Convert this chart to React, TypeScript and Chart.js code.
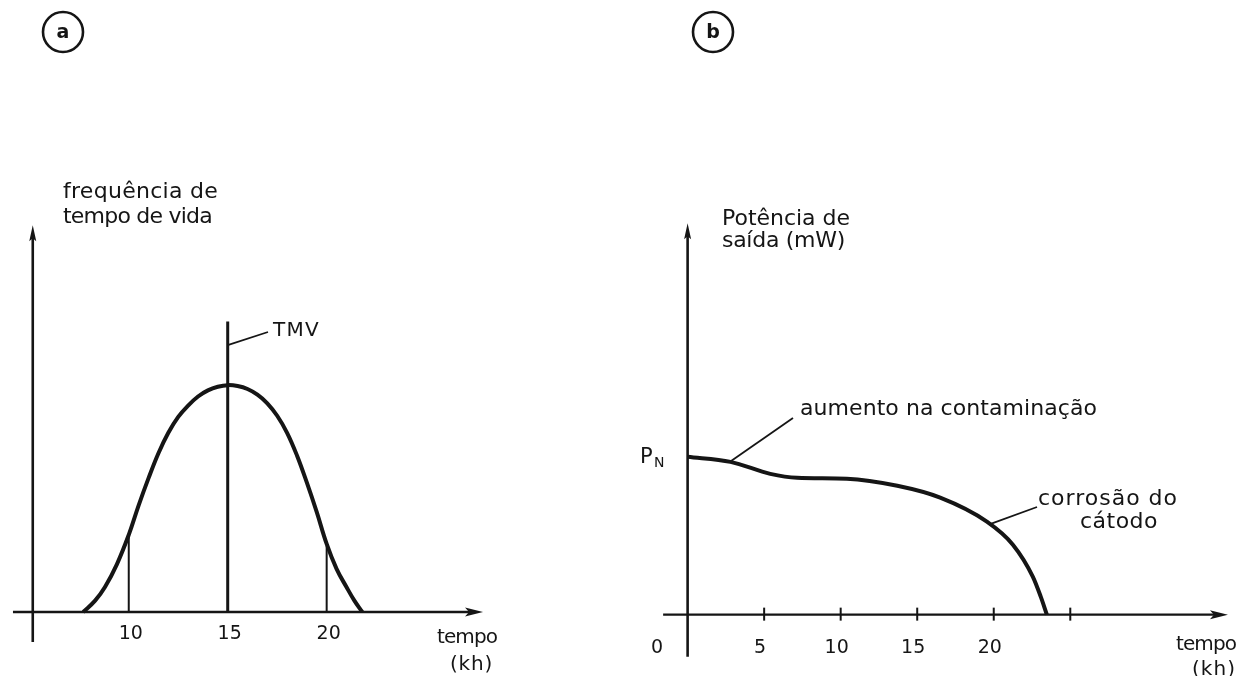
import React, { useEffect, useRef } from 'react';
import { Chart, registerables } from 'chart.js';

Chart.register(...registerables);

const FONT = '"DejaVu Sans", "Liberation Sans", sans-serif';
const INK = '#151515';
const PANEL_W = 619;
const PANEL_H = 676;

// ---------- Panel (a): frequência de tempo de vida ----------
const timeA = [7.7, 8.3, 8.8, 9.4, 10, 10.5, 11, 11.5, 12, 12.5, 13, 13.5, 14, 14.5, 15, 15.5, 16, 16.5, 17, 17.5, 18, 18.5, 19, 19.5, 20, 20.5, 21, 21.4, 21.8];
const freqA = [0, 5, 11, 21, 34, 47, 59, 70, 79, 86, 91, 95, 97.7, 99.3, 100, 99.6, 98.3, 95.8, 92, 86.5, 79, 69, 57, 44, 30, 19, 11, 5, 0];
const dropTimesA = [10, 20];
const dropTopsA = [34, 29];
const tmvTimeA = 15;
const tmvTopA = 128;
const ticksA = [10, 15, 20];
const tickLabelsA = ['10', '15', '20'];

// ---------- Panel (b): potência de saída ----------
const timeB = [0, 2.8, 5.4, 7.15, 10.4, 13.7, 16.5, 19.55, 21.25, 22.55, 23.07, 23.47];
const powerB = [100, 96.8, 89.2, 86.7, 86.1, 81.6, 74.1, 58.9, 44.3, 24.1, 11.4, 0];
const ticksB = [5, 10, 15, 20, 25];
const tickLabelsB = ['5', '10', '15', '20', ''];

function fitText(ctx: CanvasRenderingContext2D, text: string, x: number, y: number, width: number, size: number, weight = 'normal') {
  ctx.font = `${weight} ${size}px ${FONT}`;
  (ctx as any).letterSpacing = '0px';
  const w = ctx.measureText(text).width;
  const n = Array.from(text).length;
  let sp = n > 1 ? (width - w) / n : 0;
  sp = Math.max(-2, Math.min(8, sp));
  (ctx as any).letterSpacing = `${sp}px`;
  ctx.textAlign = 'left';
  ctx.textBaseline = 'alphabetic';
  ctx.fillText(text, x, y);
  (ctx as any).letterSpacing = '0px';
}

function centerText(ctx: CanvasRenderingContext2D, text: string, x: number, y: number, size: number, weight = 'normal') {
  ctx.font = `${weight} ${size}px ${FONT}`;
  (ctx as any).letterSpacing = '0px';
  ctx.textAlign = 'center';
  ctx.textBaseline = 'alphabetic';
  ctx.fillText(text, x, y);
}

function arrowRight(ctx: CanvasRenderingContext2D, tipX: number, y: number) {
  ctx.beginPath();
  ctx.moveTo(tipX, y);
  ctx.lineTo(tipX - 18, y - 4.5);
  ctx.lineTo(tipX - 14, y);
  ctx.lineTo(tipX - 18, y + 4.5);
  ctx.closePath();
  ctx.fill();
}

function arrowUp(ctx: CanvasRenderingContext2D, x: number, tipY: number) {
  ctx.beginPath();
  ctx.moveTo(x, tipY);
  ctx.lineTo(x - 3.5, tipY + 16);
  ctx.lineTo(x, tipY + 13);
  ctx.lineTo(x + 3.5, tipY + 16);
  ctx.closePath();
  ctx.fill();
}

function circledLetter(ctx: CanvasRenderingContext2D, letter: string, cx: number, cy: number) {
  ctx.lineWidth = 2.6;
  ctx.beginPath();
  ctx.arc(cx, cy, 20, 0, Math.PI * 2);
  ctx.stroke();
  ctx.font = `bold 19px ${FONT}`;
  ctx.textAlign = 'center';
  ctx.textBaseline = 'middle';
  ctx.fillText(letter, cx, cy + 1);
}

function line(ctx: CanvasRenderingContext2D, x1: number, y1: number, x2: number, y2: number, w: number) {
  ctx.lineWidth = w;
  ctx.beginPath();
  ctx.moveTo(x1, y1);
  ctx.lineTo(x2, y2);
  ctx.stroke();
}

const pluginA = {
  id: 'panelA',
  afterDraw(chart: any) {
    const { ctx } = chart;
    const xs = chart.scales.x;
    const ys = chart.scales.y;
    ctx.save();
    ctx.strokeStyle = INK;
    ctx.fillStyle = INK;
    ctx.lineCap = 'butt';
    const y0 = ys.getPixelForValue(0);
    const xStart = xs.getPixelForValue(4.15);
    const xTip = xs.getPixelForValue(27.9);
    line(ctx, xStart, y0, xTip - 12, y0, 2.4);
    arrowRight(ctx, xTip, y0);
    const yx = xs.getPixelForValue(5.15);
    line(ctx, yx, ys.getPixelForValue(-13.2), yx, ys.getPixelForValue(170.5) + 12, 2.6);
    arrowUp(ctx, yx, ys.getPixelForValue(170.5));
    ticksA.forEach((t, i) => {
      centerText(ctx, tickLabelsA[i], xs.getPixelForValue(t) + 2, 639, 19);
    });
    fitText(ctx, 'frequência de', 63, 198, 155, 22);
    fitText(ctx, 'tempo de vida', 63, 223, 149, 22);
    fitText(ctx, 'tempo', 437, 643, 60, 20);
    fitText(ctx, '(kh)', 450, 670, 43, 20);
    const tx = xs.getPixelForValue(tmvTimeA);
    line(ctx, tx, ys.getPixelForValue(117.6), 268, 332, 1.8);
    fitText(ctx, 'TMV', 273, 336, 47, 20);
    circledLetter(ctx, 'a', 63, 32);
    ctx.restore();
  },
};

const pluginB = {
  id: 'panelB',
  afterDraw(chart: any) {
    const { ctx } = chart;
    const xs = chart.scales.x;
    const ys = chart.scales.y;
    const O = PANEL_W;
    ctx.save();
    ctx.strokeStyle = INK;
    ctx.fillStyle = INK;
    const y0 = ys.getPixelForValue(0);
    const xStart = xs.getPixelForValue(-1.6);
    const xTip = xs.getPixelForValue(35.3);
    line(ctx, xStart, y0, xTip - 12, y0, 2.4);
    arrowRight(ctx, xTip, y0);
    const yx = xs.getPixelForValue(0);
    line(ctx, yx, ys.getPixelForValue(-26.6), yx, ys.getPixelForValue(248) + 12, 2.6);
    arrowUp(ctx, yx, ys.getPixelForValue(248));
    ticksB.forEach((t, i) => {
      const px = xs.getPixelForValue(t);
      line(ctx, px, y0 - 7, px, y0 + 6, 2);
      if (tickLabelsB[i]) centerText(ctx, tickLabelsB[i], px - 4, 653, 19);
    });
    centerText(ctx, '0', 657 - O, 653, 19);
    fitText(ctx, 'tempo', 1176 - O, 650, 60, 20);
    fitText(ctx, '(kh)', 1192 - O, 675, 44, 20);
    fitText(ctx, 'Potência de', 722 - O, 225, 128, 22);
    fitText(ctx, 'saída (mW)', 722 - O, 247, 123, 22);
    ctx.font = `normal 21px ${FONT}`;
    ctx.textAlign = 'left';
    ctx.textBaseline = 'alphabetic';
    ctx.fillText('P', 640 - O, 463);
    ctx.font = `normal 14px ${FONT}`;
    ctx.fillText('N', 654 - O, 467);
    line(ctx, xs.getPixelForValue(2.77), ys.getPixelForValue(96.8), 793 - O, 418, 1.8);
    fitText(ctx, 'aumento na contaminação', 800 - O, 415, 297, 22);
    line(ctx, xs.getPixelForValue(19.8), ys.getPixelForValue(57.5), 1037 - O, 507, 1.8);
    fitText(ctx, 'corrosão do', 1038 - O, 505, 140, 22);
    fitText(ctx, 'cátodo', 1080 - O, 528, 78, 22);
    circledLetter(ctx, 'b', 713 - O, 32);
    ctx.restore();
  },
};

function hiddenScales(xmin: number, xmax: number, ymin: number, ymax: number) {
  return {
    x: { type: 'linear', min: xmin, max: xmax, display: false },
    y: { type: 'linear', min: ymin, max: ymax, display: false },
  };
}

function configA(): any {
  const datasets: any[] = [
    {
      data: timeA.map((t, i) => ({ x: t, y: freqA[i] })),
      borderColor: INK,
      borderWidth: 4,
      pointRadius: 0,
      tension: 0.4,
      fill: false,
    },
    {
      data: [{ x: tmvTimeA, y: 0 }, { x: tmvTimeA, y: tmvTopA }],
      borderColor: INK,
      borderWidth: 3,
      pointRadius: 0,
    },
    ...dropTimesA.map((t, i) => ({
      data: [{ x: t, y: 0 }, { x: t, y: dropTopsA[i] }],
      borderColor: INK,
      borderWidth: 2,
      pointRadius: 0,
    })),
  ];
  return {
    type: 'line',
    data: { datasets },
    options: {
      responsive: false,
      animation: false,
      devicePixelRatio: 1,
      layout: { padding: { left: 10, right: 134, top: 215, bottom: 30 } },
      scales: hiddenScales(4, 28, -15, 175),
      plugins: { legend: { display: false }, tooltip: { enabled: false } },
    },
    plugins: [pluginA],
  };
}

function configB(): any {
  return {
    type: 'line',
    data: {
      datasets: [
        {
          data: timeB.map((t, i) => ({ x: t, y: powerB[i] })),
          borderColor: INK,
          borderWidth: 4,
          pointRadius: 0,
          cubicInterpolationMode: 'monotone',
          fill: false,
        },
      ],
    },
    options: {
      responsive: false,
      animation: false,
      devicePixelRatio: 1,
      layout: { padding: { left: 38, right: 7, top: 220, bottom: 14 } },
      scales: hiddenScales(-2, 35.5, -30, 250),
      plugins: { legend: { display: false }, tooltip: { enabled: false } },
    },
    plugins: [pluginB],
  };
}

function Panel({ left, make }: { left: number; make: () => any }) {
  const ref = useRef<HTMLCanvasElement | null>(null);
  useEffect(() => {
    if (!ref.current) return;
    const chart = new Chart(ref.current, make());
    return () => chart.destroy();
  }, [make]);
  return (
    <canvas
      ref={ref}
      width={PANEL_W}
      height={PANEL_H}
      style={{ position: 'absolute', left, top: 0, width: PANEL_W, height: PANEL_H, display: 'block' }}
    />
  );
}

export default function App() {
  return (
    <div style={{ position: 'fixed', left: 0, top: 0, width: 1238, height: 676, background: '#fff', overflow: 'hidden' }}>
      <Panel left={0} make={configA} />
      <Panel left={PANEL_W} make={configB} />
    </div>
  );
}
